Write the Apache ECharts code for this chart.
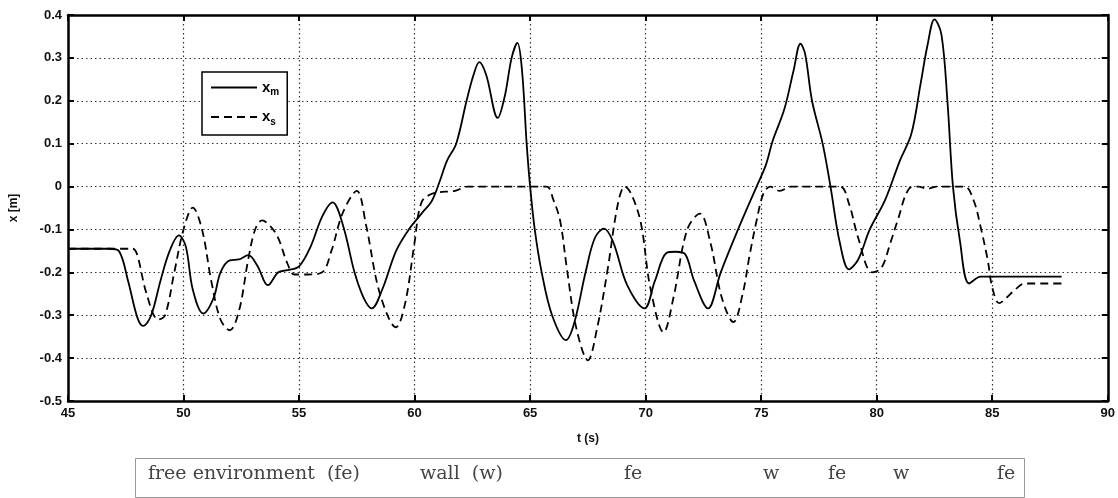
<!DOCTYPE html>
<html>
<head>
<meta charset="utf-8">
<script src="https://cdn.jsdelivr.net/npm/echarts@6/dist/echarts.min.js"></script>
<style>
  html, body { margin: 0; padding: 0; background: #fff; }
  #chart { width: 1118px; height: 498px; }
</style>
</head>
<body>
<div id="chart"></div>
<script>
// master position x_m (solid)
const timeM = [45, 46.8, 47.2, 47.6, 48.0, 48.25, 48.6, 49.0, 49.4, 49.8, 50.1, 50.4, 50.85, 51.3, 51.6, 52.0, 52.4, 52.8, 53.2, 53.65, 54.1, 54.5, 55.0, 55.5, 56.0, 56.45, 56.9, 57.4, 57.8, 58.15, 58.6, 59.2, 59.75, 60.3, 60.75, 61.1, 61.4, 61.8, 62.25, 62.55, 62.8, 63.1, 63.6, 63.9, 64.2, 64.45, 64.65, 64.85, 65.0, 65.2, 65.5, 65.95, 66.55, 66.9, 67.4, 67.8, 68.2, 68.6, 69.2, 69.95, 70.4, 70.9, 71.3, 71.7, 72.1, 72.7, 73.25, 74.0, 74.8, 75.2, 75.5, 76.0, 76.4, 76.7, 76.9, 77.2, 77.66, 78.0, 78.4, 78.8, 79.2, 79.7, 80.35, 81.0, 81.5, 81.9, 82.2, 82.5, 82.8, 83.06, 83.3, 83.6, 84.0, 84.5, 85.0, 88.0];
const posM = [-0.145, -0.145, -0.15, -0.22, -0.305, -0.325, -0.3, -0.22, -0.15, -0.114, -0.14, -0.24, -0.296, -0.26, -0.2, -0.172, -0.17, -0.16, -0.185, -0.23, -0.2, -0.195, -0.186, -0.14, -0.07, -0.037, -0.09, -0.2, -0.26, -0.284, -0.24, -0.15, -0.1, -0.063, -0.033, 0.014, 0.06, 0.1, 0.2, 0.26, 0.29, 0.26, 0.16, 0.21, 0.3, 0.335, 0.27, 0.1, 0.0, -0.1, -0.2, -0.3, -0.358, -0.32, -0.2, -0.12, -0.098, -0.13, -0.23, -0.284, -0.22, -0.155, -0.152, -0.157, -0.22, -0.284, -0.2, -0.1, 0.0, 0.05, 0.107, 0.18, 0.27, 0.333, 0.31, 0.2, 0.1, 0.0, -0.13, -0.193, -0.17, -0.1, -0.033, 0.06, 0.123, 0.24, 0.33, 0.39, 0.355, 0.2, 0.0, -0.126, -0.226, -0.21, -0.21, -0.21];

// slave position x_s (dashed)
const timeS = [45, 47.8, 48.0, 48.4, 48.9, 49.2, 49.6, 50.0, 50.4, 50.8, 51.2, 51.6, 52.0, 52.4, 52.8, 53.1, 53.4, 53.8, 54.1, 54.5, 54.8, 55.4, 56.0, 56.4, 56.9, 57.5, 57.9, 58.5, 59.2, 59.6, 60.0, 60.3, 60.8, 61.75, 62.3, 65.7, 66.0, 66.3, 66.6, 67.0, 67.5, 67.9, 68.35, 68.8, 69.1, 69.4, 69.8, 70.2, 70.78, 71.2, 71.8, 72.35, 72.8, 73.3, 73.8, 74.2, 74.5, 74.8, 75.1, 75.4, 75.8, 76.3, 78.4, 78.8, 79.2, 79.8, 80.2, 80.6, 80.9, 81.4, 81.8, 82.2, 82.6, 83.8, 84.2, 84.5, 84.8, 85.0, 85.3, 85.6, 86.0, 86.4, 88.0];
const posS = [-0.145, -0.145, -0.16, -0.25, -0.31, -0.3, -0.2, -0.1, -0.049, -0.1, -0.22, -0.31, -0.335, -0.29, -0.17, -0.1, -0.079, -0.095, -0.12, -0.18, -0.205, -0.205, -0.2, -0.15, -0.06, -0.01, -0.09, -0.25, -0.328, -0.27, -0.13, -0.037, -0.016, -0.01, 0, 0, -0.03, -0.08, -0.195, -0.33, -0.405, -0.33, -0.195, -0.04, 0, -0.02, -0.087, -0.235, -0.34, -0.26, -0.1, -0.063, -0.13, -0.26, -0.316, -0.25, -0.16, -0.08, -0.016, 0, -0.01, 0, 0, -0.04, -0.12, -0.2, -0.19, -0.13, -0.08, -0.005, 0, -0.005, 0, 0, -0.033, -0.095, -0.17, -0.235, -0.272, -0.26, -0.24, -0.226, -0.226];

// labels of the environment strip under the plot
const envLabels = ['free environment  (fe)', 'wall  (w)', 'fe', 'w', 'fe', 'w', 'fe'];
const envLabelX = [148, 420, 624, 763, 828, 893, 997];

const myChart = echarts.init(document.getElementById('chart'));

const toPairs = (ts, vs) => ts.map((t, i) => [t, vs[i]]);
const fmtY = v => String(+v.toFixed(1));

const labelStyle = { color: '#111', fontFamily: 'Liberation Sans', fontSize: 13, fontWeight: 'bold' };
const gridDots = { show: true, lineStyle: { color: '#333', type: [1.5, 3], width: 1.2 } };
const frameLine = { show: true, onZero: false, lineStyle: { color: '#000', width: 2.5 } };
const innerTick = { show: true, inside: true, length: 6, lineStyle: { color: '#000', width: 2 } };

let option = {
    animation: false,
    backgroundColor: '#fff',
    grid: { left: 65, right: 8, top: 15, bottom: 97 },
    legend: {
        left: 202,
        top: 72,
        orient: 'vertical',
        backgroundColor: '#fff',
        borderColor: '#000',
        borderWidth: 1.5,
        borderRadius: 0,
        padding: [8, 8, 8, 8],
        itemWidth: 46,
        itemHeight: 10,
        itemGap: 12,
        itemStyle: { opacity: 0 },   // hide the circle, keep the line
        data: ['xm', 'xs'],
        formatter: name => '{x|x}{s|' + name.slice(1) + '}',
        textStyle: {
            color: '#000',
            rich: {
                x: { fontFamily: 'Liberation Sans', fontSize: 15, fontWeight: 'bold', color: '#000' },
                s: { fontFamily: 'Liberation Sans', fontSize: 10, fontWeight: 'bold', color: '#000', padding: [10, 0, 0, 0] }
            }
        }
    },
    xAxis: [{
        type: 'value',
        min: 45,
        max: 90,
        interval: 5,
        name: 't (s)',
        nameLocation: 'middle',
        nameGap: 32,
        nameTextStyle: { color: '#111', fontFamily: 'Liberation Sans', fontSize: 12, fontWeight: 'bold' },
        axisLine: frameLine,
        axisTick: innerTick,
        axisLabel: Object.assign({ margin: 6 }, labelStyle),
        splitLine: gridDots
    }, {
        type: 'value',
        position: 'top',
        min: 45,
        max: 90,
        interval: 5,
        axisLine: frameLine,
        axisTick: innerTick,
        axisLabel: { show: false },
        splitLine: { show: false }
    }],
    yAxis: [{
        type: 'value',
        min: -0.5,
        max: 0.4,
        interval: 0.1,
        name: 'x [m]',
        nameLocation: 'middle',
        nameGap: 48,
        nameRotate: 90,
        nameTextStyle: { color: '#111', fontFamily: 'Liberation Sans', fontSize: 12, fontWeight: 'bold' },
        axisLine: frameLine,
        axisTick: innerTick,
        axisLabel: Object.assign({ margin: 6, formatter: fmtY }, labelStyle),
        splitLine: gridDots
    }, {
        type: 'value',
        position: 'right',
        min: -0.5,
        max: 0.4,
        interval: 0.1,
        axisLine: frameLine,
        axisTick: innerTick,
        axisLabel: { show: false },
        splitLine: { show: false }
    }],
    series: [{
        name: 'xm',
        type: 'line',
        smooth: 0.35,
        symbol: 'none',
        lineStyle: { color: '#000', width: 1.8, type: 'solid' },
        itemStyle: { color: '#000' },
        data: toPairs(timeM, posM)
    }, {
        name: 'xs',
        type: 'line',
        smooth: 0.35,
        symbol: 'none',
        lineStyle: { color: '#000', width: 1.8, type: [8, 5] },
        itemStyle: { color: '#000' },
        data: toPairs(timeS, posS)
    }],
    graphic: [{
        type: 'rect',
        left: 133,
        top: 456,
        shape: { width: 889, height: 39 },
        style: { fill: 'none', stroke: '#999', lineWidth: 1 }
    }].concat(envLabels.map((txt, i) => ({
        type: 'text',
        left: envLabelX[i],
        top: 465,
        style: { text: txt, fill: '#444', font: '19px "DejaVu Serif"' }
    })))
};

myChart.setOption(option);
</script>
</body>
</html>
